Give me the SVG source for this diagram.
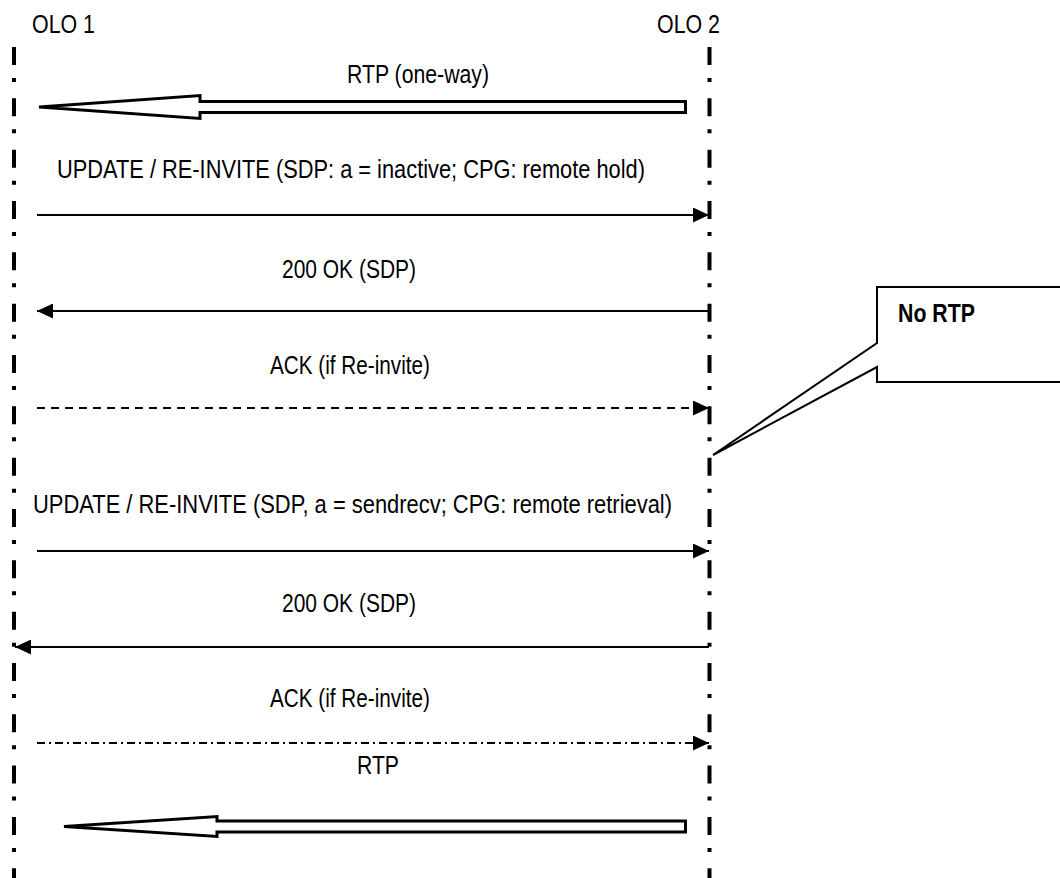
<svg xmlns="http://www.w3.org/2000/svg" width="1060" height="878" viewBox="0 0 1060 878">
<style>
.t{font-family:"Liberation Sans Narrow","Liberation Sans",Arial,sans-serif;font-size:25px;fill:#000}
.b{font-weight:bold}
.life{stroke:#000;stroke-width:4;stroke-dasharray:18 13 4 16.33;fill:none}
.msg{stroke:#000;stroke-width:2;fill:none}
.dash{stroke-dasharray:8 6}
.dashdot{stroke-dasharray:8 4 2 4}
.big{fill:#fff;stroke:#000;stroke-width:3;stroke-linejoin:miter}
.call{fill:#fff;stroke:#000;stroke-width:2}
</style>
<defs>
<marker id="ah" markerUnits="userSpaceOnUse" markerWidth="16" markerHeight="15" refX="16" refY="7.5" orient="auto">
<path d="M0,0 L16,7.5 L0,15 Z" fill="#000"/>
</marker>
</defs>
<g id="olo1">
<text class="t" x="32" y="33" textLength="63" lengthAdjust="spacingAndGlyphs">OLO 1</text>
<line class="life" x1="14" y1="47" x2="14" y2="878"/>
</g>
<g id="olo2">
<text class="t" x="657" y="33" textLength="63" lengthAdjust="spacingAndGlyphs">OLO 2</text>
<line class="life" x1="709.5" y1="47" x2="709.5" y2="878"/>
</g>
<g id="connectors">
<g id="m1">
<text class="t" x="347" y="83" textLength="142" lengthAdjust="spacingAndGlyphs">RTP (one-way)</text>
<polygon class="big" points="39,107 200,95.5 200,101.5 685.5,101.5 685.5,112.5 200,112.5 200,118.5"/>
</g>
<g id="m2">
<text class="t" x="57" y="178" textLength="588" lengthAdjust="spacingAndGlyphs">UPDATE / RE-INVITE (SDP: a = inactive; CPG: remote hold)</text>
<line class="msg" x1="37" y1="215" x2="709" y2="215" marker-end="url(#ah)"/>
</g>
<g id="m3">
<text class="t" x="282" y="278" textLength="134" lengthAdjust="spacingAndGlyphs">200 OK (SDP)</text>
<line class="msg" x1="709" y1="311" x2="37" y2="311" marker-end="url(#ah)"/>
</g>
<g id="m4">
<text class="t" x="270" y="374" textLength="160" lengthAdjust="spacingAndGlyphs">ACK (if Re-invite)</text>
<line class="msg dash" x1="37" y1="408" x2="709" y2="408" marker-end="url(#ah)"/>
</g>
<g id="m5">
<text class="t" x="33" y="513" textLength="639" lengthAdjust="spacingAndGlyphs">UPDATE / RE-INVITE (SDP, a = sendrecv; CPG: remote retrieval)</text>
<line class="msg" x1="37" y1="551" x2="709" y2="551" marker-end="url(#ah)"/>
</g>
<g id="m6">
<text class="t" x="282" y="612" textLength="134" lengthAdjust="spacingAndGlyphs">200 OK (SDP)</text>
<line class="msg" x1="709" y1="647" x2="15" y2="647" marker-end="url(#ah)"/>
</g>
<g id="m7">
<text class="t" x="270" y="707" textLength="160" lengthAdjust="spacingAndGlyphs">ACK (if Re-invite)</text>
<line class="msg dashdot" x1="37" y1="743" x2="709" y2="743" marker-end="url(#ah)"/>
</g>
<g id="m8">
<text class="t" x="357" y="774" textLength="42" lengthAdjust="spacingAndGlyphs">RTP</text>
<polygon class="big" points="64,826.5 217,816.5 217,821 685.5,821 685.5,832 217,832 217,836.5"/>
</g>
</g>
<g id="norpt">
<path class="call" d="M1062,287 L877,287 L877,343 L713,455 L877,367 L877,382 L1062,382"/>
<text class="t b" x="898" y="322" textLength="77" lengthAdjust="spacingAndGlyphs">No RTP</text>
</g>
</svg>
